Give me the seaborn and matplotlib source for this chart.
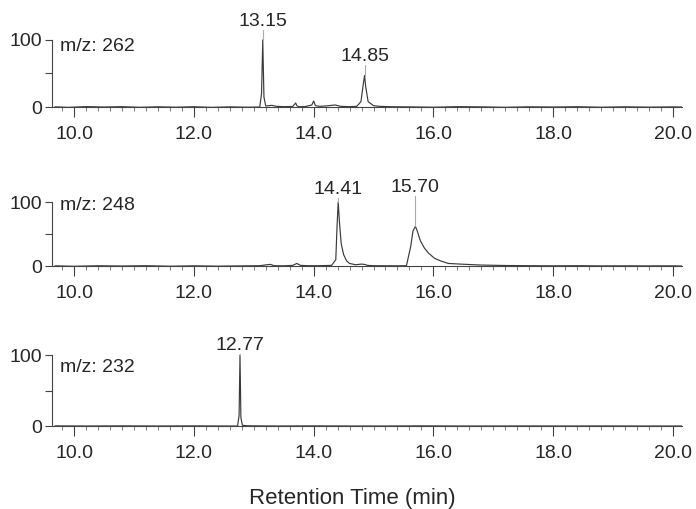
import numpy as np
import pandas as pd
import matplotlib
matplotlib.use("Agg")
import matplotlib.pyplot as plt
import seaborn as sns

# m/z 262 trace
t_262 = [9.68, 9.9, 10.2, 10.5, 10.8, 11.1, 11.4, 11.7, 12.0, 12.3, 12.6, 12.9, 13.10, 13.13, 13.15, 13.17,
         13.20, 13.3, 13.38, 13.5, 13.65, 13.70, 13.72, 13.75, 13.85, 13.97, 14.00, 14.03, 14.1, 14.2, 14.3,
         14.36, 14.45, 14.6, 14.72, 14.79, 14.83, 14.85, 14.87, 14.91, 15.0, 15.1, 15.3, 15.6, 16.0, 16.4,
         16.8, 17.2, 17.6, 18.0, 18.4, 18.8, 19.2, 19.6, 20.0, 20.15]
i_262 = [0.3, -0.5, 0.6, 0, 0.5, -0.4, 0.3, -0.3, 0.4, -0.5, 0.2, -0.3, 0, 20, 100, 15,
         1.5, 2.5, 1, 0.5, 0.8, 6, 2, 0.5, 0.5, 3, 9, 2, 1, 1.5, 2.5,
         3, 1, 0.5, 1, 8, 35, 47, 30, 8, 2, 1, 0.4, 0.2, -0.3, 0.5,
         0.2, -0.4, 0.3, 0, 0.4, -0.3, 0.3, -0.2, 0.2, 0]

# m/z 248 trace
t_248 = [9.68, 10.0, 10.4, 10.8, 11.2, 11.6, 12.0, 12.4, 12.8, 13.1, 13.22, 13.28, 13.34, 13.5, 13.65, 13.72,
         13.78, 13.9, 14.1, 14.3, 14.37, 14.39, 14.41, 14.43, 14.46, 14.5, 14.55, 14.6, 14.7, 14.8, 14.85,
         14.9, 15.0, 15.2, 15.4, 15.55, 15.62, 15.66, 15.70, 15.73, 15.78, 15.85, 15.92, 16.02, 16.12, 16.25,
         16.45, 16.8, 17.2, 17.6, 18.0, 18.4, 18.8, 19.2, 19.6, 20.0, 20.15]
i_248 = [0.3, -0.4, 0.4, 0, 0.5, -0.3, 0.3, -0.2, 0.2, 0.5, 2, 2.5, 0.5, 0.3, 1, 4,
         1, 0.5, 0.5, 1, 10, 60, 100, 70, 35, 18, 8, 4, 2, 3, 2.5,
         1, 0.5, 0.4, 0.3, 0.5, 30, 55, 62, 55, 40, 28, 20, 12, 8, 4,
         3, 1.5, 0.8, 0.5, 0.3, 0.5, 0.2, 0.3, 0.2, 0.3, 0]

# m/z 232 trace
t_232 = [9.68, 10.2, 10.8, 11.4, 12.0, 12.5, 12.73, 12.755, 12.77, 12.785, 12.81, 12.9, 13.4, 14.0,
         14.6, 15.2, 15.8, 16.4, 17.0, 17.6, 18.2, 18.8, 19.4, 20.15]
i_232 = [0.2, 0, 0.2, 0, 0.2, 0, 0, 15, 100, 12, 1, 0.3, 0, 0.2,
         0, 0, 0.2, 0, 0, 0.1, 0, 0.1, 0, 0]

mz_labels = ["m/z: 262", "m/z: 248", "m/z: 232"]
# (retention time, apex height, label)
peaks_262 = [(13.15, 100, "13.15"), (14.85, 47, "14.85")]
peaks_248 = [(14.41, 100, "14.41"), (15.70, 62, "15.70")]
peaks_232 = [(12.77, 100, "12.77")]

traces = [(t_262, i_262, peaks_262), (t_248, i_248, peaks_248), (t_232, i_232, peaks_232)]

sns.set_style("ticks")
plt.rcParams['font.family'] = ['Liberation Sans', 'DejaVu Sans']

fig = plt.figure(figsize=(6.96, 5.09), dpi=100)
# axes boxes (left, bottom, width, height) matched to the reference layout
boxes = [(0.0747, 0.7766, 0.905, 0.1975),
         (0.0747, 0.4648, 0.905, 0.1886),
         (0.0747, 0.1491, 0.905, 0.2092)]
mz_y = [90, 95, 83]
label_y = [[127, 75], [119, 122], [114]]
line_col = '#3a3a3a'

for k, (box, (t, inten, peaks)) in enumerate(zip(boxes, traces)):
    ax = fig.add_axes(box)
    df = pd.DataFrame({'t': t, 'i': inten})
    sns.lineplot(data=df, x='t', y='i', ax=ax, color=line_col, lw=0.85, estimator=None)
    ax.set_xlim(9.63, 20.15)
    ax.set_ylim(-10, 140)
    ax.set_xlabel('')
    ax.set_ylabel('')

    for sp in ['top', 'right']:
        ax.spines[sp].set_visible(False)
    ax.spines['bottom'].set_position(('data', 0))
    ax.spines['left'].set_bounds(0, 100)
    for sp in ['bottom', 'left']:
        ax.spines[sp].set_color('#444444')
        ax.spines[sp].set_linewidth(0.8)

    ax.set_xticks(np.arange(10, 21, 2.0))
    ax.set_xticklabels(['%.1f' % v for v in np.arange(10, 21, 2.0)])
    ax.set_xticks(np.arange(9.8, 20.1, 0.2), minor=True)
    ax.tick_params(axis='x', which='major', direction='out', length=7, width=0.8,
                   pad=7, labelsize=14, color='#444444')
    ax.tick_params(axis='x', which='minor', direction='out', length=3, width=0.6, color='#666666')

    ax.set_yticks([0, 50, 100])
    ax.set_yticklabels(['0', '', '100'])
    ax.tick_params(axis='y', which='major', direction='out', length=5, width=0.8,
                   pad=2, labelsize=14, color='#444444')

    ax.text(9.76, mz_y[k], mz_labels[k], fontsize=14, ha='left', va='center')
    for (pt, ph, lab), ly in zip(peaks, label_y[k]):
        if ly - 12 > ph:
            ax.plot([pt, pt], [ph, ly - 12], color='#aaaaaa', lw=0.8)
        ax.text(pt, ly, lab, fontsize=14, ha='center', va='center')

fig.text(0.506, 0.0216, 'Retention Time (min)', fontsize=16, ha='center', va='center')

fig.savefig('out.png', dpi=100)
